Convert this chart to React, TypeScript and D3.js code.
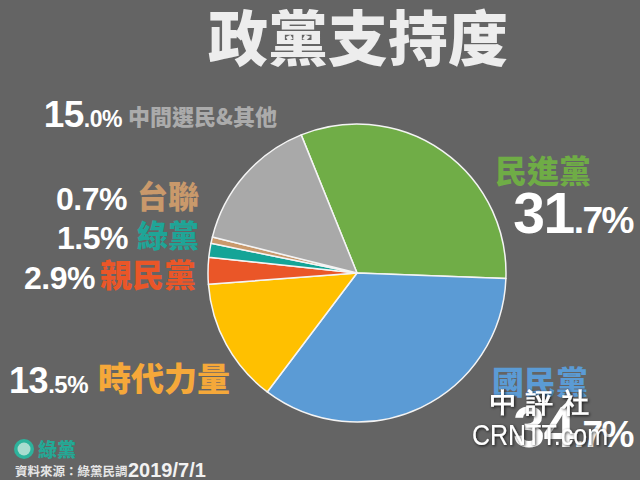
import React from "react";
import * as d3 from "d3";

const parties = ["民進黨", "國民黨", "時代力量", "親民黨", "綠黨", "台聯", "中間選民&其他"];
const shares = [31.7, 34.7, 13.5, 2.9, 1.5, 0.7, 15.0];
const sliceColors = ["#70AD47", "#5B9BD5", "#FFC000", "#EA5628", "#14A497", "#C9996B", "#A9A9A9"];
const labelColors = ["#6FAC46", "#5B9BD5", "#F5A83A", "#EA5628", "#1FA597", "#C9996B", "#ABABAB"];
const title = "政黨支持度";
const sourceText = "資料來源：綠黨民調";
const dateText = "2019/7/1";

const W = 640;
const H = 480;
const CJK = "'Noto Sans CJK TC', 'Noto Sans CJK SC', sans-serif";
const NUM = "'Liberation Sans', Arial, sans-serif";

// layout for each label (by party index)
const layout: Record<number, any> = {
  0: { side: "right", nameX: 495, nameY: 183, nameSize: 32, valX: 633, valY: 233, big: 57, small: 37 },
  1: { side: "right", nameX: 492, nameY: 394, nameSize: 32, valX: 633, valY: 447, big: 57, small: 37 },
  2: { side: "left", valX: 88, valY: 393, big: 36, small: 24, nameX: 98, nameY: 391, nameSize: 33 },
  3: { side: "left", valX: 95, valY: 289, big: 32, small: 32, nameX: 100, nameY: 287, nameSize: 32 },
  4: { side: "left", valX: 128, valY: 249, big: 32, small: 32, nameX: 137, nameY: 247, nameSize: 31 },
  5: { side: "left", valX: 127, valY: 210, big: 32, small: 32, nameX: 137, nameY: 208, nameSize: 31 },
  6: { side: "left", valX: 122, valY: 127, big: 37, small: 23, nameX: 128, nameY: 125, nameSize: 22 },
};

function splitVal(v: number) {
  const s = v.toFixed(1);
  const [i, d] = s.split(".");
  return [i, "." + d + "%"];
}

export default function App() {
  const cx = 357;
  const cy = 273;
  const r = 149;
  const start = (-22 * Math.PI) / 180;
  const pie = d3
    .pie<number>()
    .sort(null)
    .value((d) => d)
    .startAngle(start)
    .endAngle(start + 2 * Math.PI);
  const arcs = pie(shares);
  const arcGen = d3.arc<d3.PieArcDatum<number>>().innerRadius(0).outerRadius(r);

  return (
    <svg
      width={W}
      height={H}
      style={{ position: "absolute", left: 0, top: 0, display: "block" }}
    >
      <defs>
        <filter id="wm" x="-20%" y="-40%" width="140%" height="180%">
          <feDropShadow dx="1" dy="1" stdDeviation="1.5" floodColor="#000" floodOpacity="0.8" />
        </filter>
      </defs>
      <rect x={0} y={0} width={W} height={H} fill="#646464" />
      <text
        x={358}
        y={61}
        textAnchor="middle"
        fontFamily={CJK}
        fontWeight={900}
        fontSize={60}
        fill="#EDEDED"
      >
        {title}
      </text>
      <g transform={`translate(${cx},${cy})`}>
        {arcs.map((a, i) => (
          <path key={i} d={arcGen(a) || ""} fill={sliceColors[i]} stroke="#F4F4F4" strokeWidth={1.5} strokeLinejoin="round" />
        ))}
      </g>
      {parties.map((p, i) => {
        const L = layout[i];
        const [ip, dp] = splitVal(shares[i]);
        return (
          <g key={p}>
            <text
              x={L.nameX}
              y={L.nameY}
              fontFamily={CJK}
              fontWeight={900}
              fontSize={L.nameSize}
              fill={labelColors[i]}
            >
              {p}
            </text>
            <text
              x={L.valX}
              y={L.valY}
              textAnchor="end"
              fontFamily={NUM}
              fontWeight={700}
              fill="#FFFFFF"
              letterSpacing={L.big > 40 ? -1.5 : -0.5}
            >
              <tspan fontSize={L.big}>{ip}</tspan>
              <tspan fontSize={L.small}>{dp}</tspan>
            </text>
          </g>
        );
      })}
      {/* watermark */}
      <g filter="url(#wm)" fill="#FFFFFF">
        <text x={490} y={412} fontFamily="'DejaVu Serif', serif" fontSize={27} fontWeight={700} letterSpacing={9}>
          中評社
        </text>
        <text x={472} y={445} fontFamily={NUM} fontSize={29} textLength={136} lengthAdjust="spacingAndGlyphs">
          CRNTT.com
        </text>
      </g>
      {/* footer */}
      <circle cx={24} cy={449} r={10} fill="#2DB39C" />
      <circle cx={24} cy={449} r={6.5} fill="#A8DCCF" />
      <text x={38} y={457} fontFamily={CJK} fontWeight={900} fontSize={19} fill="#23A996">
        綠黨
      </text>
      <text x={15} y={476} fontFamily={CJK} fontWeight={700} fontSize={12.5} fill="#E6E6E6">
        {sourceText}
      </text>
      <text x={128} y={477} fontFamily={NUM} fontWeight={700} fontSize={20} fill="#F2F2F2">
        {dateText}
      </text>
    </svg>
  );
}
